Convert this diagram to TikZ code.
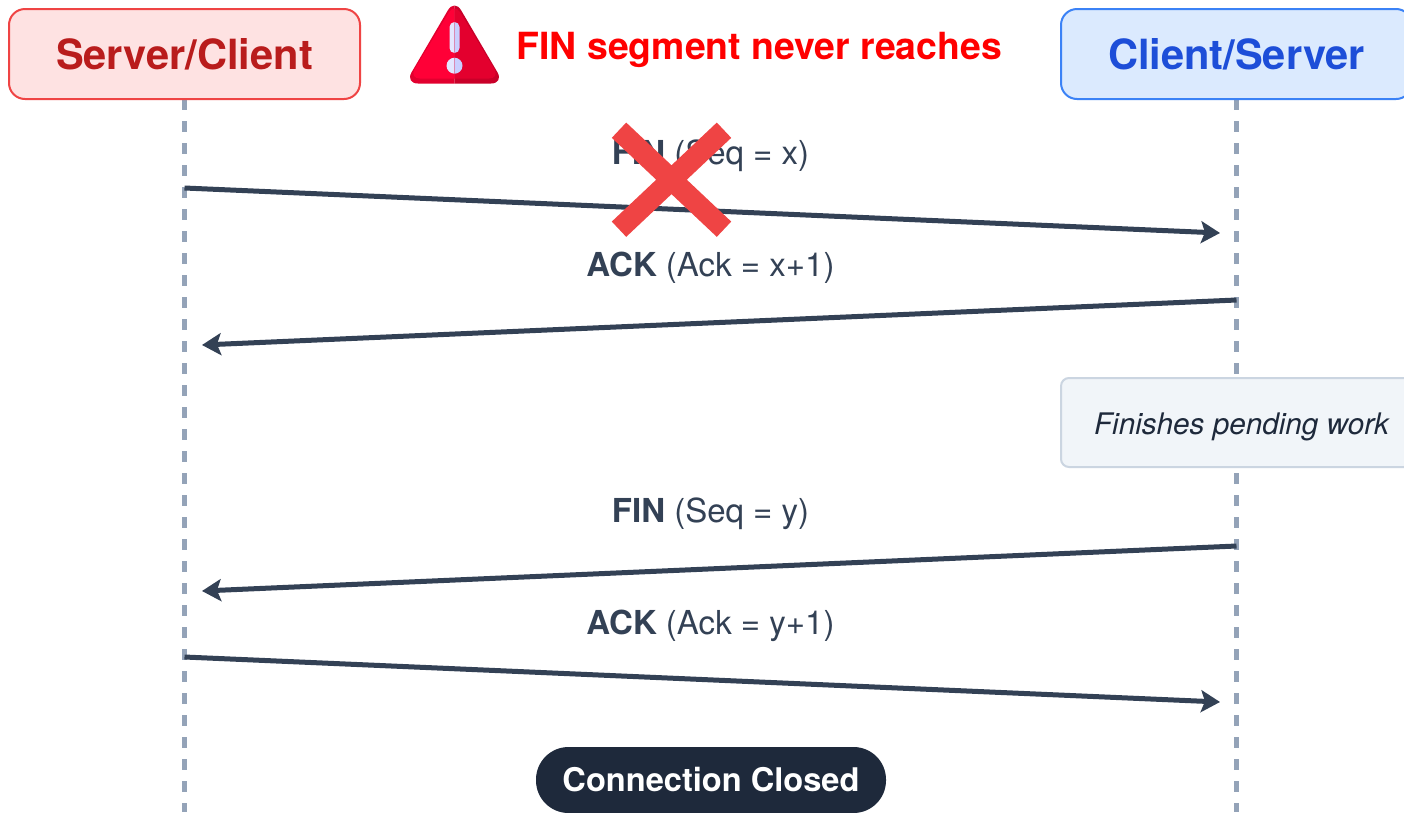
\documentclass[tikz,border=0pt]{standalone}
\usepackage{fontspec}
\setmainfont{TeX Gyre Heros}
\usetikzlibrary{arrows.meta}
\definecolor{msgc}{HTML}{334155}
\definecolor{lifec}{HTML}{94A3B8}
\definecolor{rfill}{HTML}{FEE2E2}
\definecolor{rline}{HTML}{EF4444}
\definecolor{rtext}{HTML}{B91C1C}
\definecolor{bfill}{HTML}{DBEAFE}
\definecolor{bline}{HTML}{3B82F6}
\definecolor{btext}{HTML}{1D4ED8}
\definecolor{nfill}{HTML}{F1F5F9}
\definecolor{nline}{HTML}{CBD5E1}
\definecolor{dark}{HTML}{1E293B}
\definecolor{warnred}{HTML}{FF0000}
\definecolor{iconedgel}{HTML}{E2002F}
\definecolor{iconedger}{HTML}{C90029}
\definecolor{iconl}{HTML}{FF0037}
\definecolor{iconr}{HTML}{E3002E}
\definecolor{markl}{HTML}{E4E6FF}
\definecolor{markr}{HTML}{C9CEFF}
\tikzset{
  x=1pt,y=-1pt,
  actor/.style={draw,line width=2pt,rounded corners=16pt,minimum width=351pt,minimum height=90pt,inner sep=0pt,font=\fontsize{41.6}{48}\selectfont\bfseries},
  lifeline/.style={draw=lifec,line width=4.5pt,dash pattern=on 11pt off 11pt},
  msg/.style={draw=msgc,line width=5pt,-{Stealth[length=19pt,width=22pt,inset=4pt]}},
  msglabel/.style={text=msgc,inner sep=0pt,font=\fontsize{33}{38}\selectfont},
}
\begin{document}
\begin{tikzpicture}
\useasboundingbox (0,0) rectangle (1404,812);
\clip (0,0) rectangle (1404,812);
\fill[white] (0,0) rectangle (1404,812);
% lifelines
\coordinate (lb) at (184.5,812);
\coordinate (rb) at (1236.5,812);
\coordinate (lt) at (184.5,99);
\coordinate (rt) at (1236.5,99);
\draw[lifeline] (lt) -- (lb);
\draw[lifeline] (rt) -- (rb);
% actors
\node[actor,fill=rfill,draw=rline,text=rtext] (server) at (184.5,54) {\raisebox{-1pt}{Server/Client}};
\node[actor,fill=bfill,draw=bline,text=btext] (client) at (1236.5,54) {\raisebox{-1pt}{Client/Server}};
% note
\node[draw=nline,fill=nfill,line width=2pt,rounded corners=8pt,minimum width=351pt,minimum height=89pt,inner sep=0pt,text=dark,font=\fontsize{29.7}{36}\selectfont\itshape,text height=0pt,text depth=0pt] (note) at (1236.5,422.5) {\hspace*{10pt}\raisebox{-12pt}[0pt][0pt]{Finishes pending work}};
% messages
\coordinate (m1a) at (184.5,188); \coordinate (m1b) at (1220,233);
\coordinate (m2a) at (1236.5,300); \coordinate (m2b) at (202,345);
\coordinate (m3a) at (1236.5,546); \coordinate (m3b) at (202,591);
\coordinate (m4a) at (184.5,657); \coordinate (m4b) at (1220,702);
\node[msglabel] (l1) at (710.5,155.5) {\textbf{FIN} (Seq = x)};
\node[msglabel] (l2) at (710.5,267.5) {\textbf{ACK} (Ack = x+1)};
\node[msglabel] (l3) at (710.5,513.5) {\textbf{FIN} (Seq = y)};
\node[msglabel] (l4) at (710.5,625.5) {\textbf{ACK} (Ack = y+1)};
\draw[msg] (m1a) -- (m1b);
\draw[msg] (m2a) -- (m2b);
\draw[msg] (m3a) -- (m3b);
\draw[msg] (m4a) -- (m4b);
% cross
\draw[line width=21pt,draw=rline] (619,130.2) -- (724,229.2) (724,130.2) -- (619,229.2);
% pill
\node[fill=dark,rounded corners=32.5pt,minimum width=350pt,minimum height=66pt,inner sep=0pt,text=white,font=\fontsize{32.6}{38}\selectfont\bfseries] (closed) at (711,780) {\raisebox{-1pt}{Connection Closed}};
% warning text
\node[anchor=west,inner sep=0pt,text=warnred,font=\fontsize{37.4}{42}\selectfont\bfseries] (warn) at (516.5,50) {FIN segment never reaches};
% warning icon
\begin{scope}
\clip (400,0) rectangle (454.5,100);
\fill[rounded corners=13pt,iconedgel] (454.5,-1) -- (504,83.5) -- (405,83.5) -- cycle;
\end{scope}
\begin{scope}
\clip (454.5,0) rectangle (510,100);
\fill[rounded corners=13pt,iconedger] (454.5,-1) -- (504,83.5) -- (405,83.5) -- cycle;
\end{scope}
\begin{scope}
\clip (400,0) rectangle (454.5,100);
\fill[rounded corners=11pt,iconl] (454.5,3) -- (500,78.5) -- (409,78.5) -- cycle;
\fill[markl,rounded corners=5pt] (449.5,22) rectangle (459.5,53);
\fill[markl] (454.5,65.7) circle (8);
\end{scope}
\begin{scope}
\clip (454.5,0) rectangle (510,100);
\fill[rounded corners=11pt,iconr] (454.5,3) -- (500,78.5) -- (409,78.5) -- cycle;
\fill[markr,rounded corners=5pt] (449.5,22) rectangle (459.5,53);
\fill[markr] (454.5,65.7) circle (8);
\end{scope}
\end{tikzpicture}
\end{document}
